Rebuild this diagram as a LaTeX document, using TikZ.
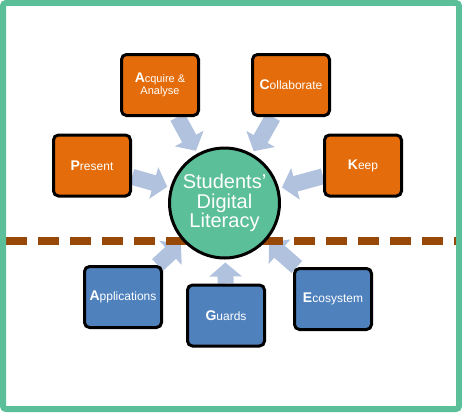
\documentclass[tikz,border=0pt]{standalone}
\usepackage{fontspec}
\setmainfont{Liberation Sans}
\usepackage{tikz}
\usetikzlibrary{arrows.meta, positioning, backgrounds}
\usepackage{xcolor}

\definecolor{frameGreen}{HTML}{5BBF9A}
\definecolor{boxOrange}{HTML}{E46C0A}
\definecolor{boxBlue}{HTML}{4F81BD}
\definecolor{arrowBlue}{HTML}{B0C2DE}
\definecolor{lineBrown}{HTML}{984807}

\newcommand{\initial}[1]{{\fontsize{14}{14}\selectfont\bfseries #1}}

\begin{document}
\begin{tikzpicture}[
x=1pt, y=-1pt,
box/.style={draw, rectangle, rounded corners=5pt, line width=3pt,
minimum width=77pt, minimum height=61pt, text=white,
align=center, font=\fontsize{12}{12.5}\selectfont},
upper/.style={box, fill=boxOrange},
lower/.style={box, fill=boxBlue},
hub/.style={draw, circle, line width=3pt, fill=frameGreen,
minimum size=110pt, inner sep=0pt, text=white, align=center,
font=\fontsize{20}{19.5}\selectfont},
arrow/.style={-{Triangle[width=32pt, length=14pt]}, line width=16pt,
arrowBlue, shorten >=3pt}
]

\useasboundingbox (0,0) rectangle (462,412);
\draw[frameGreen, line width=6pt, rounded corners=3pt] (3,3) rectangle (459,409);

\node[hub] (lit) at (224.5,203) {Students’\\Digital\\Literacy};

\node[upper, font=\fontsize{11}{12}\selectfont] (acq) at (160,85) {\initial{A}cquire \&\\Analyse};
\node[upper] (col) at (291,85) {\initial{C}ollaborate};
\node[upper] (pre) at (92,165.5) {\initial{P}resent};
\node[upper] (kee) at (363,165.5) {\initial{K}eep};

\node[lower] (app) at (123,297) {\initial{A}pplications};
\node[lower] (gua) at (226,315.5) {\initial{G}uards};
\node[lower] (eco) at (333,299) {\initial{E}cosystem};

\coordinate (dl) at (6,241);
\coordinate (dr) at (456,241);

\begin{pgfonlayer}{background}
\draw[arrow] (acq) -- (lit);
\draw[arrow] (col) -- (lit);
\draw[arrow] (pre) -- (lit);
\draw[arrow] (kee) -- (lit);
\draw[arrow] (app) -- (lit);
\draw[arrow] (gua) -- (lit);
\draw[arrow] (eco) -- (lit);
\draw[lineBrown, line width=8pt, dash pattern=on 21pt off 11pt] (dl) -- (dr);
\end{pgfonlayer}

\end{tikzpicture}
\end{document}
